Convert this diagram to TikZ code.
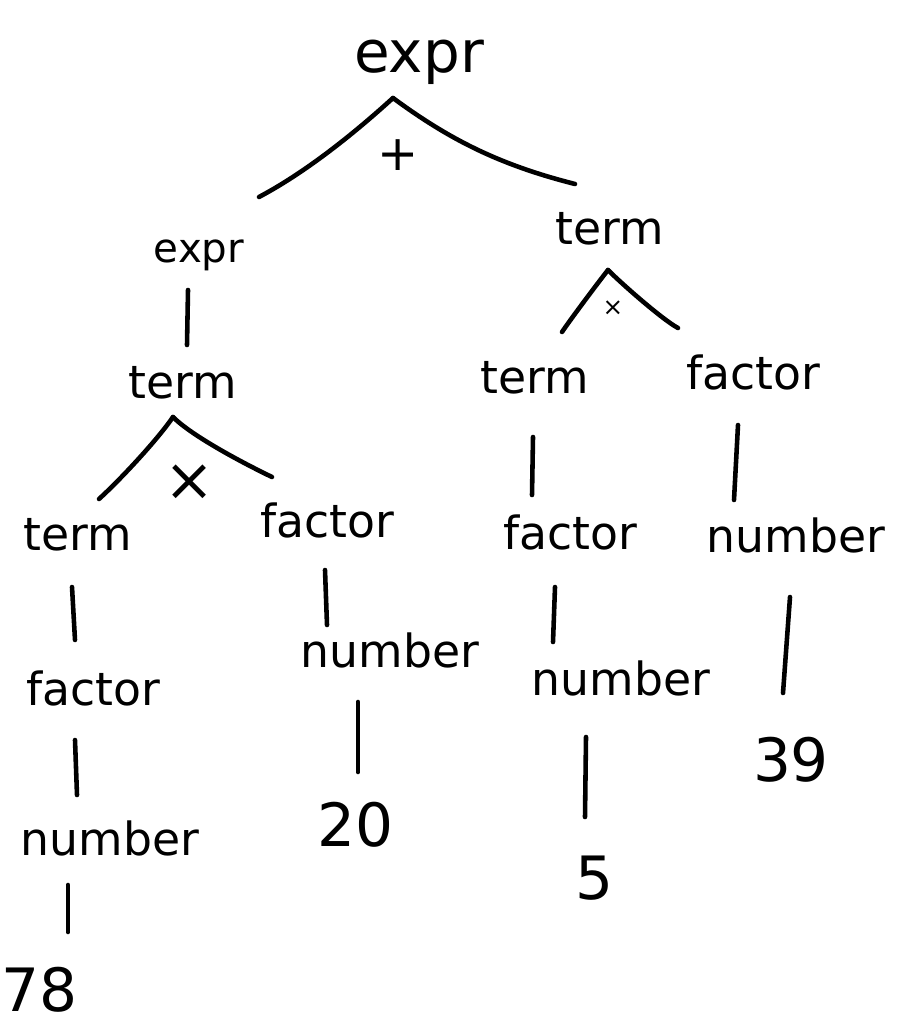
\documentclass[tikz,border=0pt]{standalone}
\usepackage{fontspec}
\setmainfont{DejaVu Sans}
\usepackage{tikz}
\usetikzlibrary{calc}

\begin{document}
\begin{tikzpicture}[
    x=0.02cm, y=-0.02cm,
    sym/.style={inner sep=0pt, font=\fontsize{26}{30}\selectfont},
    big/.style={sym, font=\fontsize{33}{38}\selectfont},
    small/.style={sym, font=\fontsize{23}{27}\selectfont},
    num/.style={sym, font=\fontsize{34}{40}\selectfont},
    op/.style={inner sep=0pt, font=\fontsize{28}{32}\selectfont},
    edge/.style={line width=2.6pt, line cap=round},
]
\useasboundingbox (0,0) rectangle (901,1030);

\node[big] (e0) at (419,62) {expr};
\node[small] (e1) at (199,255) {expr};
\node[sym] (t2) at (610,229) {term};
\node[sym] (t1) at (183,383) {term};
\node[sym] (t3) at (78,535) {term};
\node[sym] (f2) at (327,520) {factor};
\node[sym] (t5) at (535,378) {term};
\node[sym] (f4) at (753,372) {factor};
\node[sym] (f3) at (93,688) {factor};
\node[sym] (n3) at (110,838) {number};
\node[num] (n78) at (40,990) {78};
\node[sym] (n2) at (390,650) {number};
\node[num] (n20) at (356,825) {20};
\node[sym] (f5) at (570,532) {factor};
\node[sym] (n5) at (621,678) {number};
\node[num] (n5b) at (594,878) {5};
\node[sym] (n4) at (796,535) {number};
\node[num] (n39) at (791,760) {39};

\node[op] (plus) at (398,155) {+};
\node[op, font=\fontsize{34}{38}\selectfont] (times1) at (190,483) {×};
\node[op, font=\fontsize{14}{16}\selectfont] (times2) at (613,308) {×};

\draw[edge] ($(e0)+(-26,36)$) .. controls +(-33,30) and +(51,-27) .. ($(e1)+(60,-58)$);
\draw[edge] ($(e0)+(-26,36)$) .. controls +(57,42) and +(-75,-19) .. ($(t2)+(-35,-45)$);
\draw[edge] ($(e1)+(-11,35)$) -- ($(t1)+(4,-38)$);
\draw[edge] ($(t1)+(-10,34)$) .. controls +(-15,22) and +(22,-20) .. ($(t3)+(21,-36)$);
\draw[edge] ($(t1)+(-10,34)$) .. controls +(20,20) and +(-25,-12) .. ($(f2)+(-55,-43)$);
\draw[edge] ($(t2)+(-2,41)$) .. controls +(-8,10) and +(8,-12) .. ($(t5)+(27,-46)$);
\draw[edge] ($(t2)+(-2,41)$) .. controls +(15,15) and +(-15,-8) .. ($(f4)+(-75,-44)$);
\draw[edge] ($(t3)+(-6,52)$) -- ($(f3)+(-18,-48)$);
\draw[edge] ($(f3)+(-18,52)$) -- ($(n3)+(-33,-43)$);
\draw[edge] ($(n3)+(-42,47)$) -- ($(n78)+(28,-58)$);
\draw[edge] ($(f2)+(-2,50)$) -- ($(n2)+(-63,-25)$);
\draw[edge] ($(n2)+(-32,52)$) -- ($(n20)+(2,-53)$);
\draw[edge] ($(t5)+(-2,59)$) -- ($(f5)+(-38,-37)$);
\draw[edge] ($(f5)+(-15,55)$) -- ($(n5)+(-68,-36)$);
\draw[edge] ($(n5)+(-35,59)$) -- ($(n5b)+(-9,-61)$);
\draw[edge] ($(f4)+(-15,53)$) -- ($(n4)+(-62,-35)$);
\draw[edge] ($(n4)+(-6,62)$) -- ($(n39)+(-8,-67)$);
\end{tikzpicture}
\end{document}
